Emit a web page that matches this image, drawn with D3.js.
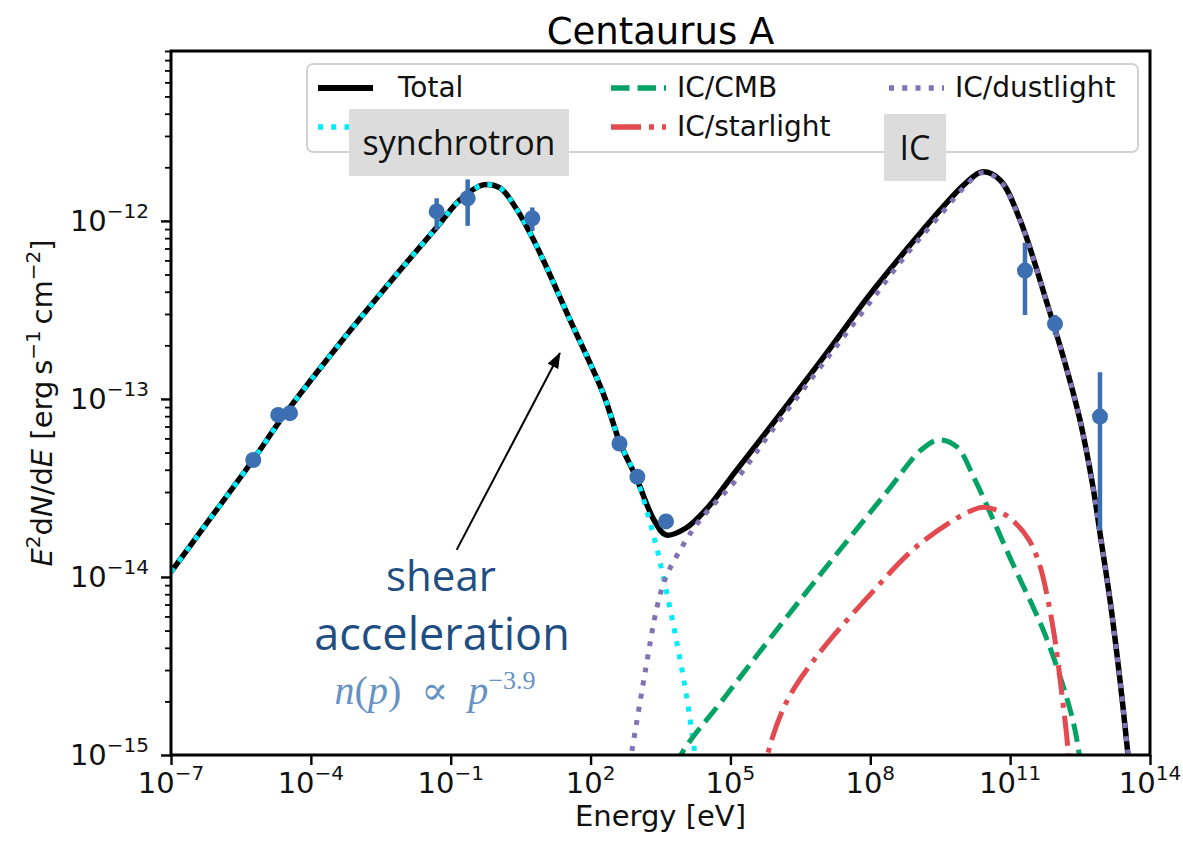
<!DOCTYPE html>
<html>
<head>
<meta charset="utf-8">
<script src="https://cdn.jsdelivr.net/npm/d3@7"></script>
<style>
  body { margin: 0; background: #ffffff; }
  svg { display: block; }
</style>
</head>
<body>
<svg id="chart" width="1183" height="852"></svg>
<script>
// Model components of the Centaurus A broadband spectrum.
// Each entry: [log10(E / eV), log10(E^2 dN/dE / erg s^-1 cm^-2)]
const total = [
  [-7.000,-13.972],[-6.378,-13.750],[-5.241,-13.343],[-4.598,-13.100],
  [-3.439,-12.708],[-2.024,-12.258],[-1.294,-12.034],[-0.801,-11.882],[-0.308,-11.798],
  [0.057,-11.815],[0.422,-11.938],[0.851,-12.146],[1.559,-12.556],[2.266,-12.966],
  [2.631,-13.247],[2.974,-13.438],[3.360,-13.680],[3.618,-13.764],[4.047,-13.725],
  [4.497,-13.615],[5.119,-13.404],[5.870,-13.152],[7.114,-12.725],[7.951,-12.427],
  [8.787,-12.157],[9.559,-11.921],[10.031,-11.792],[10.396,-11.725],[10.782,-11.770],
  [11.211,-11.994],[11.790,-12.461],[12.219,-12.837],[12.498,-13.118],[12.777,-13.494],
  [12.927,-13.753],[13.142,-14.129],[13.356,-14.579],[13.528,-15.000],[13.592,-15.197]
];
const synchrotron = [
  [-7.000,-13.972],[-6.378,-13.750],[-5.241,-13.343],[-4.598,-13.100],
  [-3.439,-12.708],[-2.024,-12.258],[-1.294,-12.034],[-0.801,-11.882],[-0.308,-11.798],
  [0.057,-11.815],[0.422,-11.938],[0.851,-12.146],[1.559,-12.556],[2.266,-12.966],
  [2.631,-13.247],[2.974,-13.438],[3.360,-13.775],[3.575,-14.017],[3.811,-14.315],
  [4.047,-14.652],[4.218,-14.955],[4.283,-15.084]
];
const icCMB = [
  [3.607,-15.197],[3.961,-14.989],[4.883,-14.674],[6.042,-14.281],[7.178,-13.904],
  [8.337,-13.528],[9.088,-13.287],[9.474,-13.230],[9.860,-13.270],[10.246,-13.455],
  [11.018,-13.904],[11.769,-14.337],[12.305,-14.764],[12.477,-14.989],[12.541,-15.197]
];
const icStarlight = [
  [5.677,-15.197],[5.806,-14.989],[6.192,-14.708],[6.792,-14.466],[7.951,-14.112],
  [9.088,-13.809],[10.332,-13.612],[10.632,-13.618],[11.018,-13.674],[11.404,-13.792],
  [11.640,-13.938],[11.811,-14.129],[11.962,-14.354],[12.091,-14.618],[12.241,-14.972],
  [12.284,-15.197]
];
const icDustlight = [
  [2.738,-15.197],[2.889,-14.972],[3.189,-14.506],[3.425,-14.169],[3.618,-14.000],
  [3.961,-13.831],[4.347,-13.680],[5.119,-13.455],[5.870,-13.185],[7.114,-12.758],
  [7.951,-12.472],[8.787,-12.185],[9.559,-11.949],[10.031,-11.806],[10.396,-11.730],
  [10.782,-11.775],[11.211,-11.998],[11.790,-12.463],[12.219,-12.838],[12.498,-13.119],
  [12.777,-13.495],[12.927,-13.754],[13.142,-14.130],[13.356,-14.580],[13.528,-15.001],
  [13.592,-15.198]
];

// Observed fluxes (eV, erg s^-1 cm^-2) with lower / upper error limits
const obsEnergy = [5.82e-6, 2.00e-5, 3.57e-5, 0.050, 0.231, 5.62, 417, 1.01e3, 4.15e3, 2.08e11, 9.16e11, 8.45e12];
const obsFlux   = [4.54e-14, 8.13e-14, 8.32e-14, 1.13e-12, 1.34e-12, 1.035e-12, 5.62e-14, 3.65e-14, 2.05e-14, 5.26e-13, 2.64e-13, 7.96e-14];
const obsLow    = [4.54e-14, 8.13e-14, 8.32e-14, 8.89e-13, 9.38e-13, 8.79e-13, 5.62e-14, 3.65e-14, 2.05e-14, 2.96e-13, 2.29e-13, 1.84e-14];
const obsHigh   = [4.54e-14, 8.13e-14, 8.32e-14, 1.34e-12, 1.71e-12, 1.19e-12, 5.62e-14, 3.65e-14, 2.05e-14, 7.55e-13, 2.96e-13, 1.41e-13];

const xTickExponents = [-7, -4, -1, 2, 5, 8, 11, 14];
const yTickExponents = [-15, -14, -13, -12];
const legendLabels = ["Total", "synchrotron", "IC/CMB", "IC/starlight", "IC/dustlight"];

// ---------------------------------------------------------------------------
const svg = d3.select("#chart");
const plot = { left: 171, right: 1150, top: 51, bottom: 755 };
const FONT = "'DejaVu Sans', sans-serif";

const x = d3.scaleLog().domain([1e-7, 1e14]).range([plot.left, plot.right]);
const y = d3.scaleLog().domain([1e-15, 9e-12]).range([plot.bottom, plot.top]);

const styles = {
  total:       { color: "#000000", width: 5.5, dash: null },
  synchrotron: { color: "#00ecf8", width: 5,   dash: "5,8.25" },
  icCMB:       { color: "#05a266", width: 5,   dash: "18.5,8" },
  icStarlight: { color: "#e24a50", width: 5,   dash: "30,8,5,8" },
  icDustlight: { color: "#8172b3", width: 5,   dash: "5,8.25" }
};

svg.append("defs").append("clipPath").attr("id", "plot-clip")
  .append("rect")
  .attr("x", plot.left).attr("y", plot.top)
  .attr("width", plot.right - plot.left).attr("height", plot.bottom - plot.top);

const line = d3.line()
  .x(d => x(Math.pow(10, d[0])))
  .y(d => y(Math.pow(10, d[1])))
  .curve(d3.curveCatmullRom.alpha(0.5));

const curves = svg.append("g").attr("clip-path", "url(#plot-clip)");
[["total", total], ["synchrotron", synchrotron], ["icCMB", icCMB],
 ["icStarlight", icStarlight], ["icDustlight", icDustlight]].forEach(([key, pts]) => {
  const s = styles[key];
  curves.append("path")
    .attr("d", line(pts))
    .attr("fill", "none")
    .attr("stroke", s.color)
    .attr("stroke-width", s.width)
    .attr("stroke-dasharray", s.dash)
    .attr("stroke-linejoin", "round");
});

// measured points with error bars
const ptColor = "#3d70b3";
const obs = obsEnergy.map((e, i) => ({ e, f: obsFlux[i], lo: obsLow[i], hi: obsHigh[i] }));
const obsG = svg.append("g").attr("clip-path", "url(#plot-clip)");
obsG.selectAll("line.err").data(obs).join("line")
  .attr("class", "err")
  .attr("x1", d => x(d.e)).attr("x2", d => x(d.e))
  .attr("y1", d => y(d.lo)).attr("y2", d => y(d.hi))
  .attr("stroke", ptColor).attr("stroke-width", 4.5);
obsG.selectAll("circle").data(obs).join("circle")
  .attr("cx", d => x(d.e)).attr("cy", d => y(d.f))
  .attr("r", 8).attr("fill", ptColor);

// axes
const xAxis = svg.append("g")
  .attr("transform", `translate(0,${plot.bottom})`)
  .call(d3.axisBottom(x)
    .tickValues(xTickExponents.map(e => Math.pow(10, e)))
    .tickFormat(() => "")
    .tickSize(10).tickSizeOuter(0));
xAxis.select(".domain").remove();
xAxis.selectAll(".tick line").attr("stroke", "#000").attr("stroke-width", 2.4);

const yMinor = [];
yTickExponents.forEach(e => {
  for (let m = 2; m <= 9; m++) {
    const v = m * Math.pow(10, e);
    if (v <= y.domain()[1] * 1.0001) yMinor.push(v);
  }
});
const yAxisMinor = svg.append("g")
  .attr("transform", `translate(${plot.left},0)`)
  .call(d3.axisLeft(y).tickValues(yMinor).tickFormat(() => "").tickSize(6).tickSizeOuter(0));
yAxisMinor.select(".domain").remove();
yAxisMinor.selectAll(".tick line").attr("stroke", "#000").attr("stroke-width", 1.8);

const yAxis = svg.append("g")
  .attr("transform", `translate(${plot.left},0)`)
  .call(d3.axisLeft(y)
    .tickValues(yTickExponents.map(e => Math.pow(10, e)))
    .tickFormat(() => "")
    .tickSize(10).tickSizeOuter(0));
yAxis.select(".domain").remove();
yAxis.selectAll(".tick line").attr("stroke", "#000").attr("stroke-width", 2.4);

const expLabel = e => (e < 0 ? "\u2212" + Math.abs(e) : String(e));

xTickExponents.forEach(e => {
  const t = svg.append("text")
    .attr("x", x(Math.pow(10, e))).attr("y", 793)
    .attr("text-anchor", "middle")
    .attr("font-family", FONT).attr("font-size", 29).attr("fill", "#111");
  t.append("tspan").text("10");
  t.append("tspan").attr("dy", -13).attr("font-size", 20).text(expLabel(e));
});
yTickExponents.forEach(e => {
  const t = svg.append("text")
    .attr("x", 149).attr("y", y(Math.pow(10, e)) + 10)
    .attr("text-anchor", "end")
    .attr("font-family", FONT).attr("font-size", 29).attr("fill", "#111");
  t.append("tspan").text("10");
  t.append("tspan").attr("dy", -13).attr("font-size", 20).text(expLabel(e));
});

// frame
svg.append("rect")
  .attr("x", plot.left).attr("y", plot.top)
  .attr("width", plot.right - plot.left).attr("height", plot.bottom - plot.top)
  .attr("fill", "none").attr("stroke", "#000").attr("stroke-width", 3);

// title and axis labels
svg.append("text")
  .attr("x", (plot.left + plot.right) / 2).attr("y", 44)
  .attr("text-anchor", "middle")
  .attr("font-family", FONT).attr("font-size", 37).attr("fill", "#000")
  .text("Centaurus A");

svg.append("text")
  .attr("x", (plot.left + plot.right) / 2).attr("y", 826)
  .attr("text-anchor", "middle")
  .attr("font-family", FONT).attr("font-size", 29).attr("fill", "#111")
  .text("Energy [eV]");

const yl = svg.append("text")
  .attr("transform", `translate(52,${(plot.top + plot.bottom) / 2}) rotate(-90)`)
  .attr("text-anchor", "middle")
  .attr("font-family", FONT).attr("font-size", 29).attr("fill", "#111");
yl.append("tspan").attr("font-style", "italic").text("E");
yl.append("tspan").attr("dy", -12).attr("font-size", 20).text("2");
yl.append("tspan").attr("dy", 12).text("d");
yl.append("tspan").attr("font-style", "italic").text("N");
yl.append("tspan").text("/d");
yl.append("tspan").attr("font-style", "italic").text("E");
yl.append("tspan").text(" [erg\u2009s");
yl.append("tspan").attr("dy", -12).attr("font-size", 20).text("\u22121");
yl.append("tspan").attr("dy", 12).text("\u2009cm");
yl.append("tspan").attr("dy", -12).attr("font-size", 20).text("\u22122");
yl.append("tspan").attr("dy", 12).text("]");

// legend
const legend = svg.append("g");
legend.append("rect")
  .attr("x", 307).attr("y", 64).attr("width", 831).attr("height", 88)
  .attr("rx", 6)
  .attr("fill", "#ffffff").attr("fill-opacity", 0.85)
  .attr("stroke", "#d2d2d2").attr("stroke-width", 2);
const legendItems = [
  { key: "total",       col: 0, row: 0 },
  { key: "synchrotron", col: 0, row: 1 },
  { key: "icCMB",       col: 1, row: 0 },
  { key: "icStarlight", col: 1, row: 1 },
  { key: "icDustlight", col: 2, row: 0 }
];
const colX = [318, 611, 889];
const rowY = [88, 127];
legendItems.forEach((it, i) => {
  const s = styles[it.key];
  const lx = colX[it.col], ly = rowY[it.row];
  legend.append("line")
    .attr("x1", lx).attr("x2", lx + 55).attr("y1", ly).attr("y2", ly)
    .attr("stroke", s.color).attr("stroke-width", s.width + 0.5)
    .attr("stroke-dasharray", s.dash);
  legend.append("text")
    .attr("x", lx + (it.col === 0 ? 80 : 66)).attr("y", ly + 9)
    .attr("font-family", FONT).attr("font-size", 28).attr("fill", "#111")
    .text(legendLabels[i]);
});

// component tags
const tagFont = "'Open Sans', 'Lato', sans-serif";
const tags = [
  { text: "synchrotron", x0: 349, x1: 569, y0: 109, y1: 176 },
  { text: "IC",          x0: 884, x1: 946, y0: 114, y1: 181 }
];
tags.forEach(t => {
  svg.append("rect")
    .attr("x", t.x0).attr("y", t.y0).attr("width", t.x1 - t.x0).attr("height", t.y1 - t.y0)
    .attr("fill", "#dcdcdd");
  svg.append("text")
    .attr("x", (t.x0 + t.x1) / 2).attr("y", (t.y0 + t.y1) / 2 + 12)
    .attr("text-anchor", "middle")
    .attr("font-family", tagFont).attr("font-size", 34).attr("fill", "#111")
    .text(t.text);
});

// shear acceleration annotation
const arrowTail = [0.134, 1.42e-14];
const arrowTip = [22, 1.81e-13];
svg.append("defs").append("marker")
  .attr("id", "arrowhead")
  .attr("viewBox", "0 0 16 12").attr("refX", 15).attr("refY", 6)
  .attr("markerWidth", 16).attr("markerHeight", 12)
  .attr("markerUnits", "userSpaceOnUse")
  .attr("orient", "auto")
  .append("path").attr("d", "M0,0 L16,6 L0,12 z").attr("fill", "#000");
svg.append("line")
  .attr("x1", x(arrowTail[0])).attr("y1", y(arrowTail[1]))
  .attr("x2", x(arrowTip[0])).attr("y2", y(arrowTip[1]))
  .attr("stroke", "#000").attr("stroke-width", 2)
  .attr("marker-end", "url(#arrowhead)");

const noteColor = "#1f4f82";
svg.append("text")
  .attr("x", 441).attr("y", 591)
  .attr("text-anchor", "middle")
  .attr("font-family", tagFont).attr("font-size", 42).attr("fill", noteColor)
  .text("shear");
svg.append("text")
  .attr("x", 442).attr("y", 650)
  .attr("text-anchor", "middle")
  .attr("font-family", tagFont).attr("font-size", 45).attr("fill", noteColor)
  .text("acceleration");
const formula = svg.append("text")
  .attr("x", 435).attr("y", 704)
  .attr("text-anchor", "middle")
  .attr("font-family", "'Liberation Serif', 'DejaVu Serif', serif")
  .attr("font-size", 40).attr("fill", "#6692c4");
formula.append("tspan").attr("font-style", "italic").text("n");
formula.append("tspan").text("(");
formula.append("tspan").attr("font-style", "italic").text("p");
formula.append("tspan").text(")\u2002\u221D\u2002");
formula.append("tspan").attr("font-style", "italic").text("p");
formula.append("tspan").attr("dy", -15).attr("font-size", 26).text("\u22123.9");
</script>
</body>
</html>
